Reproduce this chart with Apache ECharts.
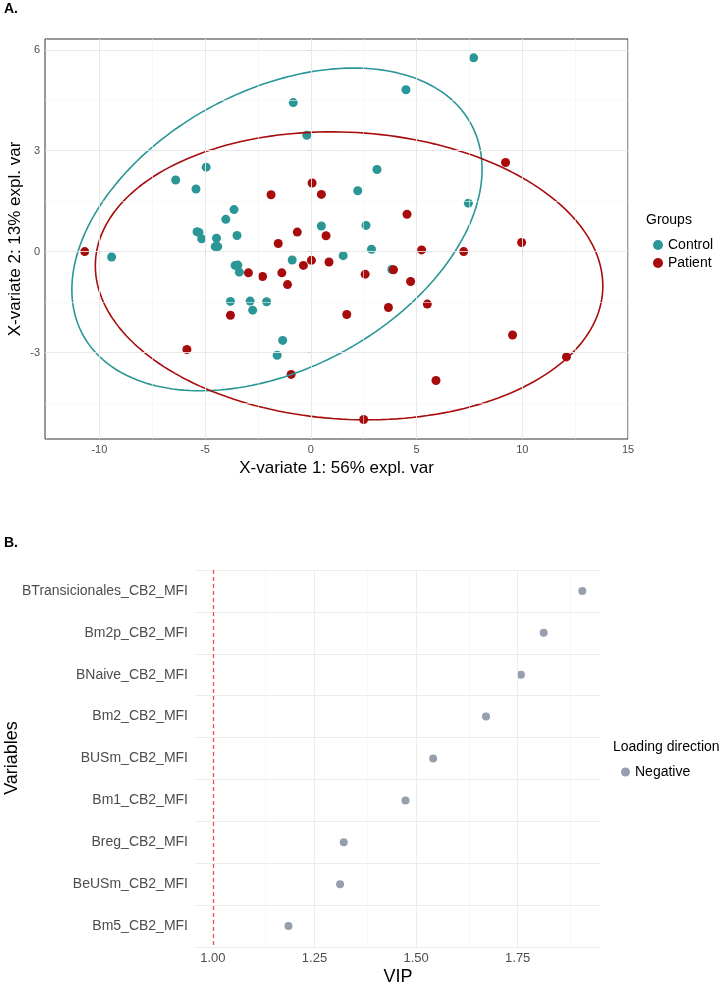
<!DOCTYPE html>
<html><head><meta charset="utf-8">
<script src="https://cdn.jsdelivr.net/npm/echarts@6/dist/echarts.min.js"></script>
<style>html,body{margin:0;padding:0;background:#fff}#c{width:720px;height:983px}</style>
</head><body><div id="c"></div>
<script>
// Panel A data
const controlX = [-0.83,-0.19,-4.95,-6.39,-5.43,-3.63,-4.02,-5.38,-5.29,-5.16,-4.46,-3.49,-4.52,-4.40,0.50,-9.42,-0.88,-3.58,-3.45,-3.38,-3.80,-2.87,-2.75,-2.09,-1.33,-1.59,7.70,4.50,3.13,2.22,7.45,2.61,2.87,1.53,3.83];
const controlY = [4.43,3.46,2.51,2.13,1.86,1.25,0.96,0.59,0.57,0.38,0.40,0.48,0.15,0.15,0.76,-0.16,-0.25,-0.41,-0.40,-0.61,-1.48,-1.47,-1.74,-1.49,-2.64,-3.08,5.76,4.81,2.44,1.81,1.44,0.78,0.07,-0.12,-0.53];
const patientX = [-10.69,0.06,0.50,-1.88,-0.64,0.72,-1.54,0.03,-0.35,0.86,-2.95,-2.28,-1.37,-1.10,-3.80,-5.86,-0.93,9.21,4.55,9.97,5.24,7.23,3.91,2.57,4.72,3.67,5.51,1.70,9.54,12.09,5.92,2.50];
const patientY = [0,2.04,1.70,1.69,0.58,0.47,0.24,-0.26,-0.41,-0.31,-0.63,-0.74,-0.63,-0.98,-1.89,-2.91,-3.65,2.65,1.11,0.27,0.05,0,-0.54,-0.67,-0.89,-1.66,-1.56,-1.87,-2.48,-3.13,-3.83,-4.99];
// confidence ellipses: [cx, cy, A, B, C, D]  x=cx+A cos t+B sin t, y=cy+C cos t+D sin t
const ellipseControl = [-1.6, 0.66, 9.7, 0, 1.79, 4.45];
const ellipsePatient = [1.81, -0.72, 12.0, 0, -0.30, 4.27];
const xTicksA = [-10,-5,0,5,10,15];
const yTicksA = [-3,0,3,6];
const xMinorA = [-12.5,-7.5,-2.5,2.5,7.5,12.5];
const yMinorA = [-4.5,-1.5,1.5,4.5];
// Panel B data
const variables = ['BTransicionales_CB2_MFI','Bm2p_CB2_MFI','BNaive_CB2_MFI','Bm2_CB2_MFI','BUSm_CB2_MFI','Bm1_CB2_MFI','Breg_CB2_MFI','BeUSm_CB2_MFI','Bm5_CB2_MFI'];
const vip = [1.909,1.814,1.758,1.672,1.542,1.474,1.322,1.313,1.186];
const xTicksB = [1.00,1.25,1.50,1.75];
const xMinorB = [1.125,1.375,1.625,1.875];
const threshold = 1.0;

function ell(p){const pts=[];for(let i=0;i<=200;i++){const t=2*Math.PI*i/200;pts.push([p[0]+p[2]*Math.cos(t)+p[3]*Math.sin(t),p[1]+p[4]*Math.cos(t)+p[5]*Math.sin(t)]);}return pts;}
const zip=(a,b)=>a.map((v,i)=>[v,b[i]]);
const TEAL='#2A9696', RED='#A80B0B';
const gl=(c,w)=>({color:c,width:w,type:'solid'});
const mlA = [].concat(
  xMinorA.map(v=>({xAxis:v,lineStyle:gl('#F3F3F3',0.6)})),
  yMinorA.map(v=>({yAxis:v,lineStyle:gl('#F3F3F3',0.6)})),
  xTicksA.map(v=>({xAxis:v,lineStyle:gl('#E6E6E6',0.9)})),
  yTicksA.map(v=>({yAxis:v,lineStyle:gl('#E6E6E6',0.9)})));
const mlB = [].concat(
  xMinorB.map(v=>({xAxis:v,lineStyle:gl('#F4F4F4',0.6)})),
  xTicksB.filter(v=>v!==threshold).map(v=>({xAxis:v,lineStyle:gl('#EBEBEB',0.9)})));
const dash={color:'#F0504F',width:1.3,type:[4,3],opacity:1};
const tl={color:'#4D4D4D',fontSize:11,fontFamily:'Liberation Sans'};
const chart=echarts.init(document.getElementById('c'));
chart.setOption({
  animation:false,
  textStyle:{fontFamily:'Liberation Sans'},
  graphic:[
    {type:'text',left:4,top:2,style:{text:'A.',font:'bold 14px Liberation Sans',fill:'#000'}},
    {type:'text',left:4,top:536,style:{text:'B.',font:'bold 14px Liberation Sans',fill:'#000'}},
    {type:'text',left:646,top:213,style:{text:'Groups',font:'14px Liberation Sans',fill:'#000'}},
    {type:'text',left:613,top:740,style:{text:'Loading direction',font:'14px Liberation Sans',fill:'#000'}},
    {type:'text',x:15,y:239,rotation:Math.PI/2,style:{text:'X-variate 2: 13% expl. var',font:'17px Liberation Sans',fill:'#000',align:'center',verticalAlign:'middle'}},
    {type:'text',x:12,y:758,rotation:Math.PI/2,style:{text:'Variables',font:'18px Liberation Sans',fill:'#000',align:'center',verticalAlign:'middle'}}
  ],
  grid:[
    {left:45,top:39,width:583,height:400,show:true,borderColor:'#333',borderWidth:1,outerBoundsMode:'none',containLabel:false},
    {left:195,top:570,width:406,height:377,show:false,outerBoundsMode:'none',containLabel:false}
  ],
  legend:[
    {data:['Control','Patient'],orient:'vertical',left:648,top:233,itemWidth:10,itemHeight:10,itemGap:4,
     icon:'circle',textStyle:{fontSize:14,color:'#000'}},
    {data:['Negative'],orient:'vertical',left:616,top:760,itemWidth:9,itemHeight:9,icon:'circle',textStyle:{fontSize:14,color:'#000'}}
  ],
  xAxis:[
    {gridIndex:0,type:'value',min:-12.57,max:15,name:'X-variate 1: 56% expl. var',nameLocation:'middle',nameGap:21,
     nameTextStyle:{fontSize:17,color:'#000'},axisLine:{show:false},
     axisTick:{show:true,customValues:xTicksA,length:3,lineStyle:{color:'#333'}},
     axisLabel:{customValues:xTicksA,margin:5,...tl},splitLine:{show:false}},
    {gridIndex:1,type:'value',min:0.956,max:1.955,name:'VIP',nameLocation:'middle',nameGap:21,
     nameTextStyle:{fontSize:18,color:'#000'},axisLine:{show:false},axisTick:{show:false},
     axisLabel:{customValues:xTicksB,formatter:v=>v.toFixed(2),margin:5,...tl,fontSize:13},splitLine:{show:false}}
  ],
  yAxis:[
    {gridIndex:0,type:'value',min:-5.57,max:6.32,axisLine:{show:false},
     axisTick:{show:true,customValues:yTicksA,length:3,lineStyle:{color:'#333'}},
     axisLabel:{customValues:yTicksA,margin:5,...tl},splitLine:{show:false}},
    {gridIndex:1,type:'category',data:variables,inverse:true,axisLine:{show:false},axisTick:{show:false},
     axisLabel:{margin:7,...tl,fontSize:14},splitLine:{show:true,lineStyle:{color:'#EBEBEB',width:0.9}}}
  ],
  series:[
    {type:'scatter',xAxisIndex:0,yAxisIndex:0,data:[],silent:true,
     markLine:{silent:true,symbol:'none',label:{show:false},data:mlA}},
    {name:'ellC',type:'line',xAxisIndex:0,yAxisIndex:0,data:ell(ellipseControl),showSymbol:false,smooth:false,
     lineStyle:{color:TEAL,width:1.6},silent:true},
    {name:'ellP',type:'line',xAxisIndex:0,yAxisIndex:0,data:ell(ellipsePatient),showSymbol:false,smooth:false,
     lineStyle:{color:RED,width:1.6},silent:true},
    {name:'Control',type:'scatter',xAxisIndex:0,yAxisIndex:0,data:zip(controlX,controlY),symbolSize:9,itemStyle:{color:TEAL,opacity:1}},
    {name:'Patient',type:'scatter',xAxisIndex:0,yAxisIndex:0,data:zip(patientX,patientY),symbolSize:9,itemStyle:{color:RED,opacity:1}},
    {type:'scatter',xAxisIndex:1,yAxisIndex:1,data:[],silent:true,
     markLine:{silent:true,symbol:'none',label:{show:false},data:mlB}},
    {type:'scatter',xAxisIndex:1,yAxisIndex:1,data:[],silent:true,z:5,itemStyle:{color:'#F0504F'},
     markLine:{silent:true,symbol:'none',label:{show:false},
       data:[{xAxis:threshold,lineStyle:dash}],lineStyle:dash}},
    {name:'Negative',type:'scatter',xAxisIndex:1,yAxisIndex:1,data:vip.map((v,i)=>[v,variables[i]]),symbolSize:8,itemStyle:{color:'#7A8798'}}
  ]
});
</script></body></html>
